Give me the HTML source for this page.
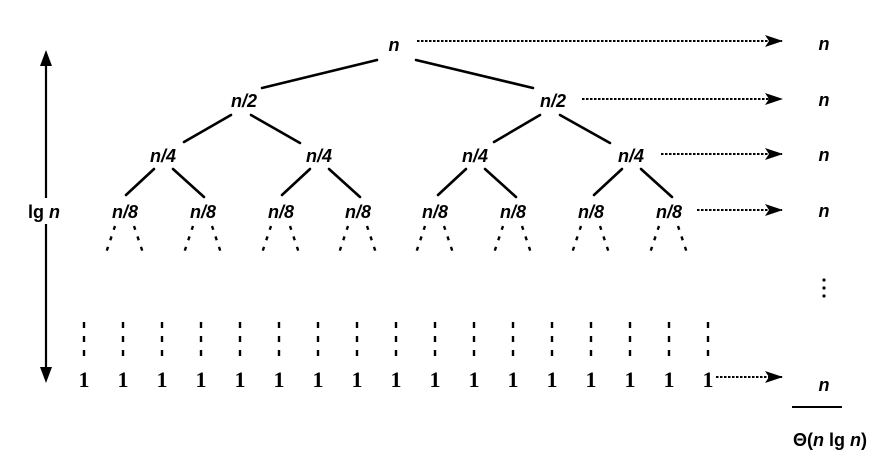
<!DOCTYPE html>
<html><head><style>
html,body{margin:0;padding:0;background:#fff;width:871px;height:476px;overflow:hidden}
svg text{font-family:"Liberation Sans",sans-serif;font-weight:bold;fill:#000}
</style></head><body>
<svg width="871" height="476" viewBox="0 0 871 476" xmlns="http://www.w3.org/2000/svg">
<defs>
<marker id="ah" markerWidth="18" markerHeight="12" refX="17" refY="6" orient="auto" markerUnits="userSpaceOnUse">
<path d="M0,0 L18,6 L0,12 L4,6 Z" fill="#000"/>
</marker>
</defs>
<g font-style="italic" font-size="18" text-anchor="middle">
<text x="394" y="51">n</text>
<text x="244" y="107">n/2</text>
<text x="553" y="107">n/2</text>
<text x="163" y="162">n/4</text>
<text x="319" y="162">n/4</text>
<text x="475" y="162">n/4</text>
<text x="631" y="162">n/4</text>
<text x="125" y="218">n/8</text>
<text x="203" y="218">n/8</text>
<text x="281" y="218">n/8</text>
<text x="358" y="218">n/8</text>
<text x="435" y="218">n/8</text>
<text x="513" y="218">n/8</text>
<text x="591" y="218">n/8</text>
<text x="669" y="218">n/8</text>
<text x="824" y="50">n</text>
<text x="824" y="106">n</text>
<text x="824" y="161">n</text>
<text x="824" y="217">n</text>
<text x="824" y="391">n</text>
</g>
<text x="28" y="218" font-size="18">lg <tspan font-style="italic">n</tspan></text>
<text x="793" y="446" font-size="18">Θ(<tspan font-style="italic">n</tspan> lg <tspan font-style="italic">n</tspan>)</text>
<g stroke="#000" stroke-width="2.6" stroke-linecap="round">
<line x1="377" y1="60" x2="262" y2="88"/>
<line x1="416" y1="60" x2="533" y2="88"/>
<line x1="231" y1="115" x2="184" y2="142"/>
<line x1="251" y1="115" x2="300" y2="143"/>
<line x1="540" y1="115" x2="494" y2="142"/>
<line x1="560" y1="115" x2="610" y2="143"/>
<line x1="154" y1="169" x2="126" y2="195"/>
<line x1="173" y1="169" x2="204" y2="197"/>
<line x1="310" y1="169" x2="282" y2="195"/>
<line x1="329" y1="169" x2="360" y2="197"/>
<line x1="466" y1="169" x2="438" y2="195"/>
<line x1="485" y1="169" x2="516" y2="197"/>
<line x1="622" y1="169" x2="594" y2="195"/>
<line x1="641" y1="169" x2="672" y2="197"/>
</g>
<g stroke="#000" stroke-width="2.4" stroke-dasharray="4 7">
<line x1="115" y1="226" x2="105" y2="256"/><line x1="134" y1="226" x2="144" y2="256"/>
<line x1="193" y1="226" x2="183" y2="256"/><line x1="212" y1="226" x2="222" y2="256"/>
<line x1="271" y1="226" x2="261" y2="256"/><line x1="290" y1="226" x2="300" y2="256"/>
<line x1="348" y1="226" x2="338" y2="256"/><line x1="367" y1="226" x2="377" y2="256"/>
<line x1="425" y1="226" x2="415" y2="256"/><line x1="444" y1="226" x2="454" y2="256"/>
<line x1="503" y1="226" x2="493" y2="256"/><line x1="522" y1="226" x2="532" y2="256"/>
<line x1="581" y1="226" x2="571" y2="256"/><line x1="600" y1="226" x2="610" y2="256"/>
<line x1="659" y1="226" x2="649" y2="256"/><line x1="678" y1="226" x2="688" y2="256"/>
</g>
<g stroke="#000" stroke-width="2" stroke-dasharray="2.5 1.5" marker-end="url(#ah)">
<line x1="417" y1="41" x2="782" y2="41"/>
<line x1="582" y1="99" x2="782" y2="99"/>
<line x1="661" y1="154" x2="782" y2="154"/>
<line x1="697" y1="210" x2="782" y2="210"/>
<line x1="716" y1="377" x2="782" y2="377"/>
</g>
<g stroke="#000" stroke-width="2.2">
<line x1="46" y1="62" x2="46" y2="198"/>
<line x1="46" y1="224" x2="46" y2="370"/>
</g>
<path d="M46,50 L40,66 L52,66 Z" fill="#000"/>
<path d="M46,383 L40,367 L52,367 Z" fill="#000"/>
<g fill="#000">
<circle cx="824" cy="280" r="1.6"/><circle cx="824" cy="288" r="1.6"/><circle cx="824" cy="296" r="1.6"/>
</g>
<line x1="792" y1="407" x2="842" y2="407" stroke="#000" stroke-width="2"/>
<g font-size="22" text-anchor="middle">
<text x="84" y="387" style="font-family:'Liberation Serif',serif">1</text>
<text x="123" y="387" style="font-family:'Liberation Serif',serif">1</text>
<text x="162" y="387" style="font-family:'Liberation Serif',serif">1</text>
<text x="201" y="387" style="font-family:'Liberation Serif',serif">1</text>
<text x="240" y="387" style="font-family:'Liberation Serif',serif">1</text>
<text x="279" y="387" style="font-family:'Liberation Serif',serif">1</text>
<text x="318" y="387" style="font-family:'Liberation Serif',serif">1</text>
<text x="357" y="387" style="font-family:'Liberation Serif',serif">1</text>
<text x="396" y="387" style="font-family:'Liberation Serif',serif">1</text>
<text x="435" y="387" style="font-family:'Liberation Serif',serif">1</text>
<text x="474" y="387" style="font-family:'Liberation Serif',serif">1</text>
<text x="513" y="387" style="font-family:'Liberation Serif',serif">1</text>
<text x="552" y="387" style="font-family:'Liberation Serif',serif">1</text>
<text x="591" y="387" style="font-family:'Liberation Serif',serif">1</text>
<text x="630" y="387" style="font-family:'Liberation Serif',serif">1</text>
<text x="669" y="387" style="font-family:'Liberation Serif',serif">1</text>
<text x="708" y="387" style="font-family:'Liberation Serif',serif">1</text>
</g>
<g stroke="#000" stroke-width="2.4" stroke-dasharray="6 8">
<line x1="84" y1="322" x2="84" y2="362"/><line x1="123" y1="322" x2="123" y2="362"/>
<line x1="162" y1="322" x2="162" y2="362"/><line x1="201" y1="322" x2="201" y2="362"/>
<line x1="240" y1="322" x2="240" y2="362"/><line x1="279" y1="322" x2="279" y2="362"/>
<line x1="318" y1="322" x2="318" y2="362"/><line x1="357" y1="322" x2="357" y2="362"/>
<line x1="396" y1="322" x2="396" y2="362"/><line x1="435" y1="322" x2="435" y2="362"/>
<line x1="474" y1="322" x2="474" y2="362"/><line x1="513" y1="322" x2="513" y2="362"/>
<line x1="552" y1="322" x2="552" y2="362"/><line x1="591" y1="322" x2="591" y2="362"/>
<line x1="630" y1="322" x2="630" y2="362"/><line x1="669" y1="322" x2="669" y2="362"/>
<line x1="708" y1="322" x2="708" y2="362"/>
</g>
</svg>
</body></html>
